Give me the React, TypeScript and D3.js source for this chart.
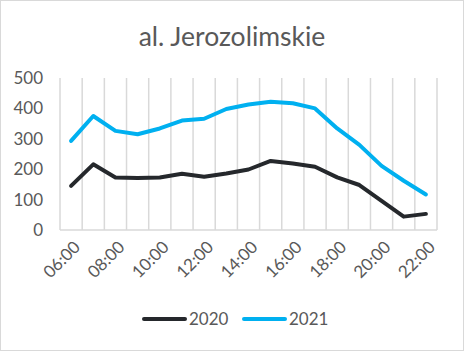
import React from "react";
import * as d3 from "d3";

const hours = ["06:00","07:00","08:00","09:00","10:00","11:00","12:00","13:00","14:00","15:00","16:00","17:00","18:00","19:00","20:00","21:00","22:00"];
const tickLabels = ["06:00","08:00","10:00","12:00","14:00","16:00","18:00","20:00","22:00"];
const values2020 = [145,216,173,171,173,185,175,186,199,227,219,208,173,148,96,44,53];
const values2021 = [293,375,326,315,334,360,366,398,413,422,417,400,334,280,211,162,117];
const yTicks = [0,100,200,300,400,500];
const seriesNames = ["2020","2021"];
const seriesColors = ["#25282c","#00b0f0"];

export default function App() {
  const W = 464, H = 351;
  const left = 60, right = 437, top = 78, bottom = 230;
  const x = d3.scaleBand<string>().domain(hours).range([left, right]);
  const y = d3.scaleLinear().domain([0, 500]).range([bottom, top]);
  const line = d3.line<number>()
    .x((_, i) => (x(hours[i]) as number) + x.bandwidth() / 2)
    .y(d => y(d));
  const boundaries = hours.map(h => x(h) as number).concat([right]);
  const font = "Lato, sans-serif";
  const series = [values2020, values2021];
  return (
    <svg width={W} height={H} style={{ position: "absolute", left: 0, top: 0 }} fontFamily={font}>
      <rect x={0.5} y={0.5} width={W - 1} height={H - 1} fill="#fff" stroke="#d9d9d9" />
      <text x={232} y={46} textAnchor="middle" fontSize={26.5} fill="#595959">al. Jerozolimskie</text>
      {boundaries.map((bx, i) => (
        <line key={i} x1={bx} x2={bx} y1={top} y2={bottom} stroke="#d9d9d9" strokeWidth={1.5} />
      ))}
      <line x1={left} x2={right} y1={bottom} y2={bottom} stroke="#d9d9d9" strokeWidth={1.5} />
      {yTicks.map(t => (
        <text key={t} x={43} y={y(t)} dy="0.35em" textAnchor="end" fontSize={17} fill="#595959">{t}</text>
      ))}
      {tickLabels.map(t => {
        const cx = (x(t) as number) + x.bandwidth() / 2;
        return (
          <text key={t} transform={`translate(${cx + 6},${bottom + 14}) rotate(-45)`} textAnchor="end" dy="0.35em" fontSize={17} fill="#595959">{t}</text>
        );
      })}
      {series.map((s, i) => (
        <path key={i} d={line(s) as string} fill="none" stroke={seriesColors[i]} strokeWidth={4} strokeLinejoin="round" strokeLinecap="round" />
      ))}
      {seriesNames.map((n, i) => (
        <g key={n} transform={`translate(${144 + i * 100},319)`}>
          <line x1={0} x2={41} y1={0} y2={0} stroke={seriesColors[i]} strokeWidth={4} strokeLinecap="round" />
          <text x={45} y={0} dy="0.35em" fontSize={17} fill="#595959">{n}</text>
        </g>
      ))}
    </svg>
  );
}
